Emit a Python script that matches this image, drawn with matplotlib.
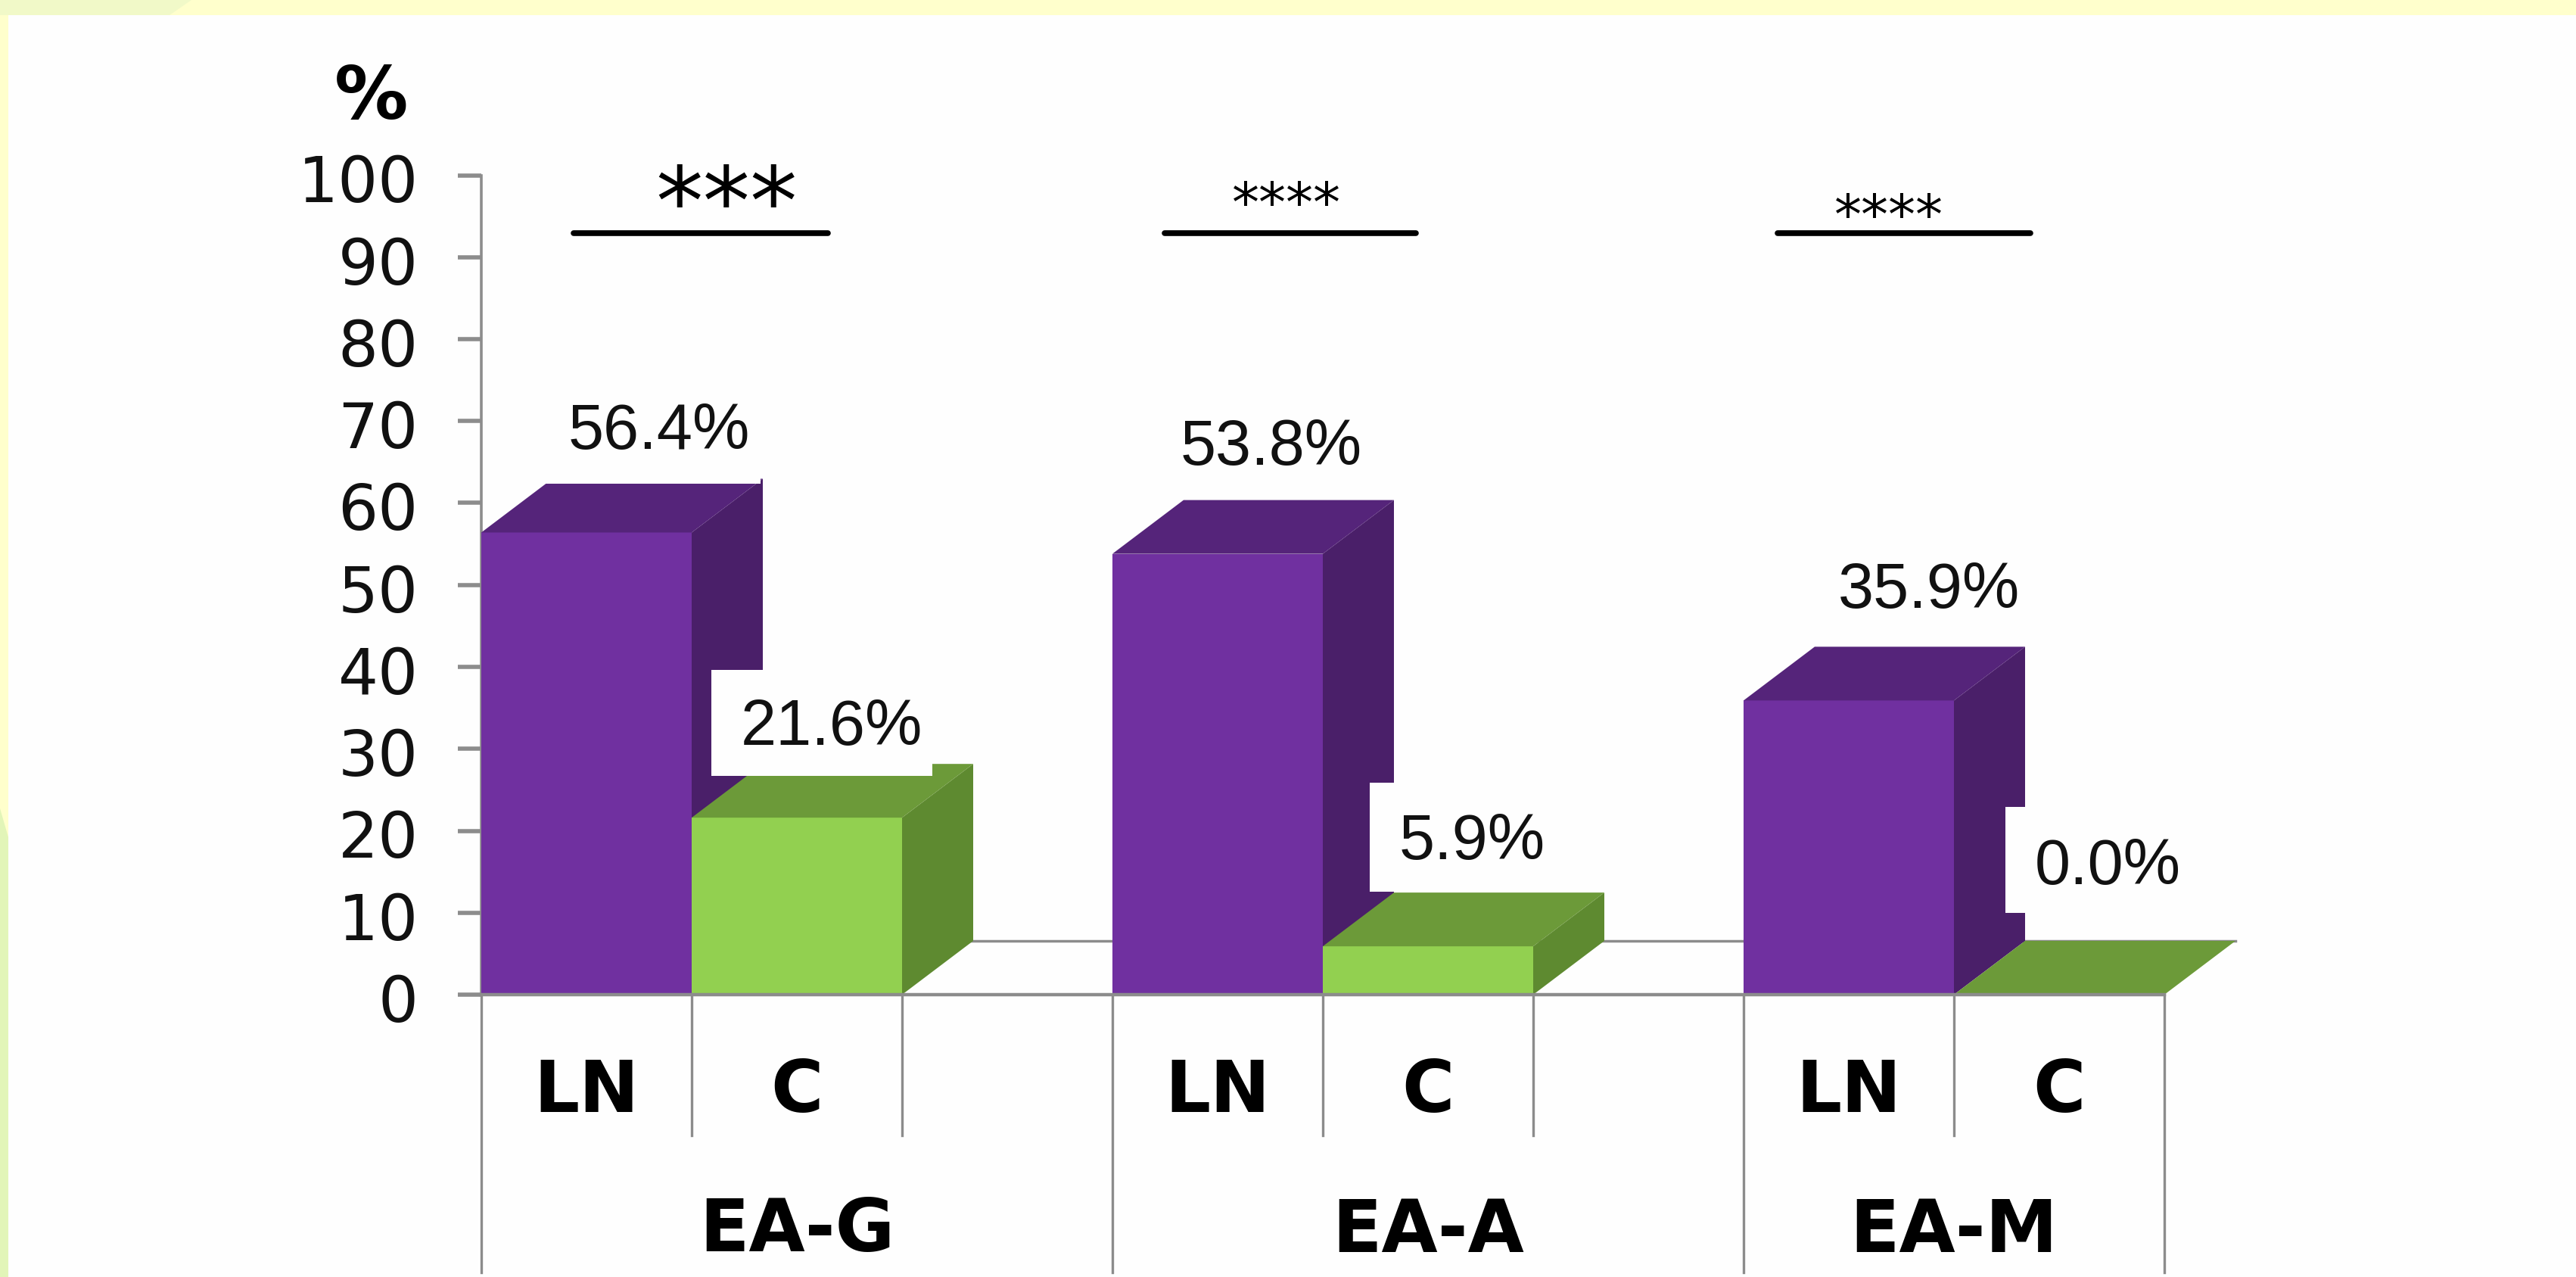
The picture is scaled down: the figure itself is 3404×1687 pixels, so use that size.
"""
Recreate the LN / C bar chart with fake 3D bars
"""
import matplotlib
matplotlib.use('Agg')
import matplotlib.pyplot as plt
from matplotlib.patches import Polygon, Rectangle
from matplotlib.transforms import ScaledTranslation

# Data
categories = ['LN', 'C', '', 'LN', 'C', '', 'LN', 'C']
values = [56.4, 21.6, None, 53.8, 5.9, None, 35.9, 0.0]
value_labels = ['56.4%', '21.6%', None, '53.8%', '5.9%', None, '35.9%', '0.0%']
groups = ['EA-G', 'EA-A', 'EA-M']
group_centers = [1.5, 4.5, 7.0]
y_ticks = list(range(0, 101, 10))

# Colors
PURPLE = {'front': '#7030A0', 'top': '#55247A', 'side': '#4A1F69'}
GREEN = {'front': '#92D050', 'top': '#6C9A39', 'side': '#5E8A30'}
GREY = '#8C8C8C'

W, H = 3404, 1687
AX_LEFT, AX_RIGHT, AX_TOP, AX_BOTTOM = 636, 2860, 231.5, 1314
CAT_W = (AX_RIGHT - AX_LEFT) / len(categories)
UNIT_H = (AX_BOTTOM - AX_TOP) / 100
DEPTH_X = 94 / CAT_W
DEPTH_Y = 71 / UNIT_H


def px(x, y):
    """Convert reference pixels to data coordinates."""
    return (x - AX_LEFT) / CAT_W, (AX_BOTTOM - y) / UNIT_H


fig = plt.figure(figsize=(W / 100, H / 100), dpi=100, facecolor='#FEFEFE')

# Slide background showing around the edges
fig.add_artist(Rectangle((0, 1 - 20 / H), 1, 20 / H, transform=fig.transFigure, color='#FFFFCC', lw=0))
fig.add_artist(Rectangle((0, 0), 11 / W, 1, transform=fig.transFigure, color='#FFFFCC', lw=0))
fig.add_artist(Polygon([(0, 1), (253 / W, 1), (224 / W, 1 - 20 / H), (0, 1 - 20 / H)],
                       transform=fig.transFigure, color='#F1F9C8', lw=0))
fig.add_artist(Polygon([(0, 0), (11 / W, 0), (11 / W, 1 - 1106 / H), (0, 1 - 1068 / H)],
                       transform=fig.transFigure, color='#E2F5B8', lw=0))

ax = fig.add_axes([AX_LEFT / W, 1 - AX_BOTTOM / H, (AX_RIGHT - AX_LEFT) / W, (AX_BOTTOM - AX_TOP) / H])
ax.patch.set_visible(False)
ax.set_xlim(0, len(categories))
ax.set_ylim(0, 100)

# Floor lines
ax.plot([DEPTH_X, len(categories) + DEPTH_X], [DEPTH_Y, DEPTH_Y], color=GREY, lw=2.5, zorder=1, clip_on=False)

# Bars with their top and side faces
for i, val in enumerate(values):
    if val is None:
        continue
    colors = PURPLE if categories[i] == 'LN' else GREEN
    ax.bar(i, val, width=1, align='edge', color=colors['front'], lw=0, zorder=3 + i)
    side = [(i + 1, 0), (i + 1 + DEPTH_X, DEPTH_Y), (i + 1 + DEPTH_X, val + DEPTH_Y), (i + 1, val)]
    top = [(i, val), (i + DEPTH_X, val + DEPTH_Y), (i + 1 + DEPTH_X, val + DEPTH_Y), (i + 1, val)]
    ax.add_patch(Polygon(side, color=colors['side'], lw=0, zorder=2 + i, clip_on=False))
    ax.add_patch(Polygon(top, color=colors['top'], lw=0, zorder=3 + i, clip_on=False))

# White label boxes sit over the bars
label_boxes = [(700, 520, 1005, 639), (940, 885, 1232, 1025), (1810, 1034, 2075, 1178), (2650, 1066, 2900, 1206)]
for x0, y0, x1, y1 in label_boxes:
    xa, ya = px(x0, y1)
    xb, yb = px(x1, y0)
    ax.add_patch(Rectangle((xa, ya), xb - xa, yb - ya, color='#FEFEFE', lw=0, zorder=20, clip_on=False))

# Value labels
label_pos = [(871, 571), (1099, 962), None, (1680, 592), (1945, 1113), None, (2549, 781), (2785, 1146)]
for label, pos in zip(value_labels, label_pos):
    if label is None:
        continue
    x, y = px(*pos)
    ax.text(x, y, label, ha='center', va='center', fontsize=61, family='Liberation Sans',
            color='#111111', zorder=30, clip_on=False)

# Axes
for name in ['top', 'right', 'bottom']:
    ax.spines[name].set_visible(False)
ax.spines['left'].set_color(GREY)
ax.spines['left'].set_linewidth(2.6)
ax.set_yticks(y_ticks)
ax.set_xticks([])
ax.tick_params(axis='y', length=22, width=4, color=GREY, pad=38, labelsize=60, labelcolor='#111111')
shift_down = ScaledTranslation(0, -4 / 100, fig.dpi_scale_trans)
for tick_label in ax.get_yticklabels():
    tick_label.set_transform(tick_label.get_transform() + shift_down)
ax.plot([0, len(categories)], [0, 0], color=GREY, lw=3.2, zorder=25, clip_on=False)

# Category separators below the axis
_, short_end = px(0, 1500)
_, long_end = px(0, 1681)
for i in range(len(categories) + 1):
    end = long_end if i in (0, 3, 6, 8) else short_end
    ax.plot([i, i], [0, end], color=GREY, lw=2.4, clip_on=False, zorder=2)

# Category and group labels
_, cat_y = px(0, 1443)
_, group_y = px(0, 1627)
for i, cat in enumerate(categories):
    ax.text(i + 0.5, cat_y, cat, ha='center', va='center', fontsize=68, fontweight='bold', color='black')
for name, center in zip(groups, group_centers):
    ax.text(center, group_y, name, ha='center', va='center', fontsize=69, fontweight='bold', color='black')

# Unit label
x, y = px(491, 131)
ax.text(x, y, '%', ha='center', va='center', fontsize=70, fontweight='bold', color='black', clip_on=False)

# Significance bars
sig_lines = [(758, 1094), (1539, 1871), (2349, 2683)]
sig_text = [('***', 960, 276, 90), ('****', 1700, 273, 52), ('****', 2496, 289, 52)]
for x0, x1 in sig_lines:
    xa, y = px(x0, 308)
    xb, _ = px(x1, 308)
    ax.plot([xa, xb], [y, y], color='black', lw=5.5, solid_capstyle='round', clip_on=False, zorder=30)
for stars, sx, sy, size in sig_text:
    x, y = px(sx, sy)
    ax.text(x, y, stars, ha='center', va='center', fontsize=size, color='black', clip_on=False, zorder=30)

plt.savefig('out.png', dpi=100)
plt.close()
